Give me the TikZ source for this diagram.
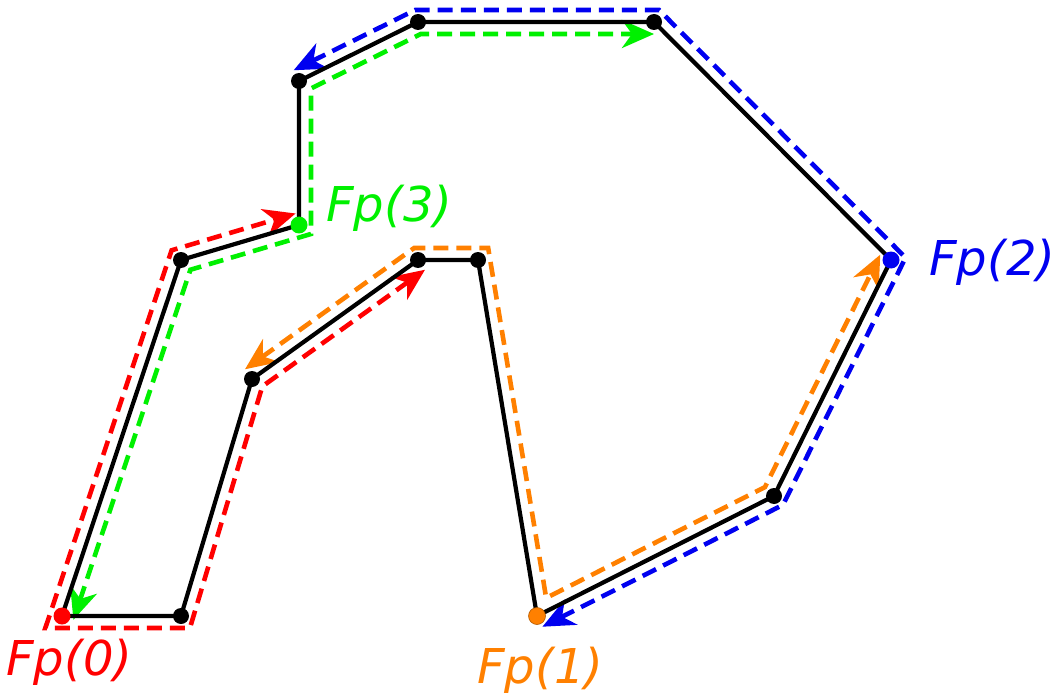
\documentclass[tikz,border=0pt]{standalone}
\usepackage{fontspec}
\setmainfont{DejaVu Sans}
\usetikzlibrary{calc,arrows.meta}
\definecolor{cred}{RGB}{255,0,0}
\definecolor{cgreen}{RGB}{0,240,0}
\definecolor{cblue}{RGB}{0,0,240}
\definecolor{corange}{RGB}{255,128,0}
\newcommand\offc[5]{%
  \coordinate (oa) at ($(#2)!#5!90:(#3)$);
  \coordinate (ob) at ($(#3)!#5!-90:(#2)$);
  \coordinate (oc) at ($(#3)!#5!90:(#4)$);
  \coordinate (od) at ($(#4)!#5!-90:(#3)$);
  \coordinate (#1) at (intersection of oa--ob and oc--od);
}
\newcommand\offs[4]{\coordinate (#1) at ($(#2)!#4!90:(#3)$);}
\newcommand\offe[4]{\coordinate (#1) at ($(#3)!#4!-90:(#2)$);}
\tikzset{
  poly/.style={line width=4.2pt, line join=round},
  dot/.style={circle, fill=black, inner sep=0pt, minimum size=16pt},
  bigdot/.style={circle, inner sep=0pt, minimum size=17pt},
  tipa/.tip={Stealth[length=32pt,width=28pt,inset=10pt]},
  route/.style={line width=4.6pt, dash pattern=on 15pt off 8pt, line join=miter, tipa-tipa},
  lab/.style={anchor=base west, inner sep=0pt, font=\fontsize{48}{58}\selectfont\itshape},
}
\begin{document}
\begin{tikzpicture}[x=1pt,y=-1pt]
\useasboundingbox (0,0) rectangle (1060,695);
\coordinate (v0) at (62,616);
\coordinate (v1) at (181,616);
\coordinate (v2) at (252,379);
\coordinate (v3) at (418,260);
\coordinate (v4) at (478,260);
\coordinate (v5) at (537,616);
\coordinate (v6) at (774,496);
\coordinate (v7) at (891,260);
\coordinate (v8) at (654,22);
\coordinate (v9) at (418,22);
\coordinate (v10) at (299,81);
\coordinate (v11) at (299,225);
\coordinate (v12) at (181,260);
% red: v3 v2 v1 v0 v12 v11, +12
\offs{r0}{v3}{v2}{12pt}
\offc{r1}{v3}{v2}{v1}{12pt}
\offc{r2}{v2}{v1}{v0}{12pt}
\offc{r3}{v1}{v0}{v12}{12pt}
\offc{r4}{v0}{v12}{v11}{12pt}
\offe{r5}{v12}{v11}{12pt}
% orange: v2 v3 v4 v5 v6 v7, +12
\offs{o0}{v2}{v3}{12pt}
\offc{o1}{v2}{v3}{v4}{12pt}
\offc{o2}{v3}{v4}{v5}{12pt}
\offc{o3}{v4}{v5}{v6}{12pt}
\offc{o4}{v5}{v6}{v7}{12pt}
\offe{o5}{v6}{v7}{12pt}
% blue: v5 v6 v7 v8 v9 v10, -12
\offs{b0}{v5}{v6}{-12pt}
\offc{b1}{v5}{v6}{v7}{-12pt}
\offc{b2}{v6}{v7}{v8}{-12pt}
\offc{b3}{v7}{v8}{v9}{-12pt}
\offc{b4}{v8}{v9}{v10}{-12pt}
\offe{b5}{v9}{v10}{-12pt}
% green: v0 v12 v11 v10 v9 v8, -12
\offs{g0}{v0}{v12}{-12pt}
\offc{g1}{v0}{v12}{v11}{-12pt}
\offc{g2}{v12}{v11}{v10}{-12pt}
\offc{g3}{v11}{v10}{v9}{-12pt}
\offc{g4}{v10}{v9}{v8}{-12pt}
\offe{g5}{v9}{v8}{-12pt}
% routes
\draw[route, cred] (r0) -- (r1) -- (r2) -- (r3) -- (r4) -- (r5);
\draw[route, corange] (o0) -- (o1) -- (o2) -- (o3) -- (o4) -- (o5);
\draw[route, cblue] (b0) -- (b1) -- (b2) -- (b3) -- (b4) -- (b5);
\draw[route, cgreen] (g0) -- (g1) -- (g2) -- (g3) -- (g4) -- (g5);
% polygon
\draw[poly] (v0) -- (v1) -- (v2) -- (v3) -- (v4) -- (v5) -- (v6) -- (v7) -- (v8) -- (v9) -- (v10) -- (v11) -- (v12) -- cycle;
% dots
\node[dot] (d1) at (v1) {};
\node[dot] (d2) at (v2) {};
\node[dot] (d3) at (v3) {};
\node[dot] (d4) at (v4) {};
\node[dot] (d6) at (v6) {};
\node[dot] (d8) at (v8) {};
\node[dot] (d9) at (v9) {};
\node[dot] (d10) at (v10) {};
\node[dot] (d12) at (v12) {};
\node[bigdot, fill=cred] (d0) at (v0) {};
\node[bigdot, fill=corange, draw=corange!70!black, line width=0.6pt] (d5) at (v5) {};
\node[bigdot, fill=cblue] (d7) at (v7) {};
\node[bigdot, fill=cgreen] (d11) at (v11) {};
% labels
\node[lab, text=cred] (l0) at (6,675) {Fp(0)};
\node[lab, text=corange] (l1) at (477,683) {Fp(1)};
\node[lab, text=cblue] (l2) at (929,275) {Fp(2)};
\node[lab, text=cgreen] (l3) at (326,222) {Fp(3)};
\end{tikzpicture}
\end{document}
